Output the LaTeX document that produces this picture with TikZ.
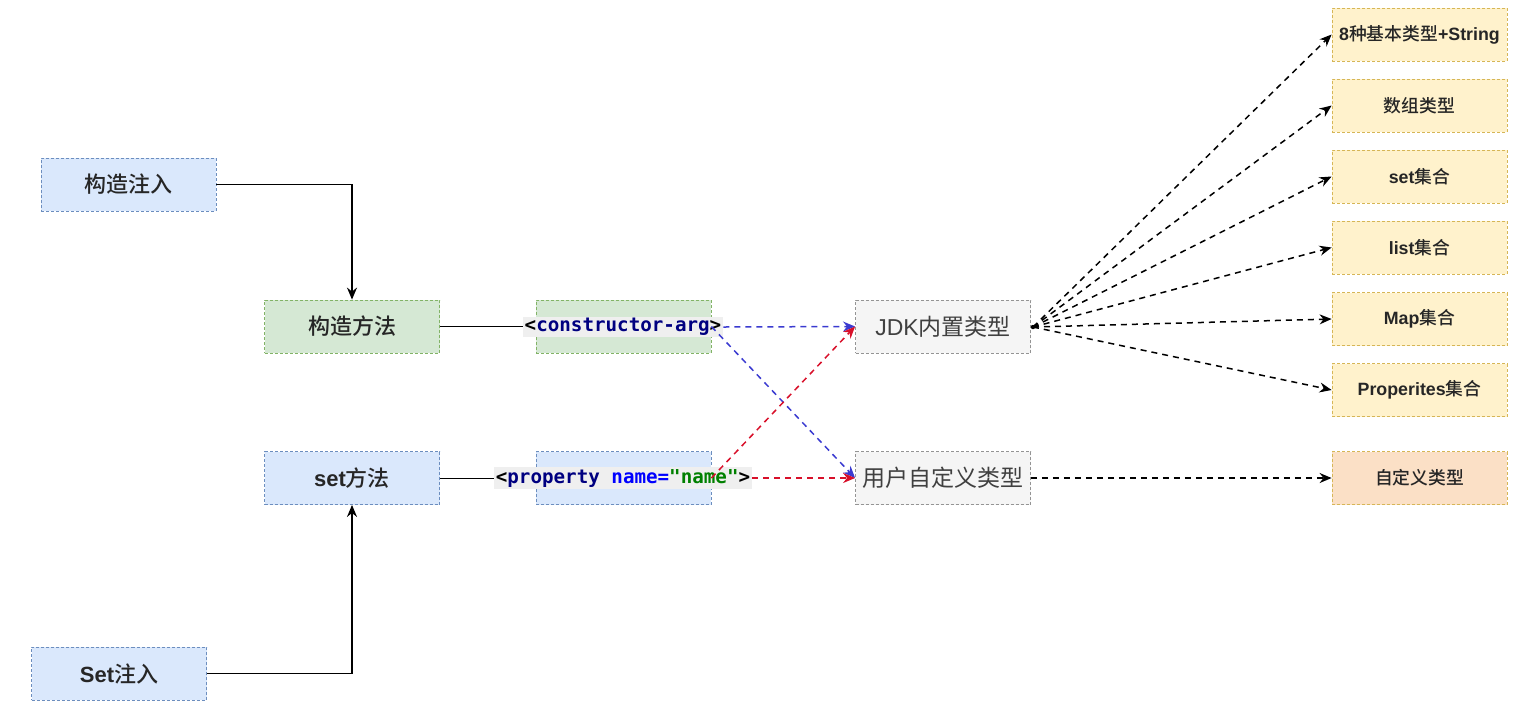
\documentclass[tikz,border=0pt]{standalone}
\usepackage{fontspec}
\setmainfont{Liberation Sans}
\newfontfamily\cjk{Noto Sans CJK SC}[BoldFont={Noto Sans CJK SC Medium}]
\newfontfamily\codefont{DejaVu Sans Mono}
\usetikzlibrary{arrows.meta}
\definecolor{blfill}{HTML}{DAE8FC}
\definecolor{bldraw}{HTML}{6C8EBF}
\definecolor{grfill}{HTML}{D5E8D4}
\definecolor{grdraw}{HTML}{82B366}
\definecolor{gyfill}{HTML}{F5F5F5}
\definecolor{gydraw}{HTML}{666666}
\definecolor{yefill}{HTML}{FFF2CC}
\definecolor{yedraw}{HTML}{D6B656}
\definecolor{orfill}{HTML}{FBE0C6}
\definecolor{ordraw}{HTML}{D79B00}
\definecolor{codebg}{HTML}{EFEFEF}
\definecolor{kwnavy}{HTML}{000080}
\definecolor{attblue}{HTML}{0000FF}
\definecolor{strgreen}{HTML}{008000}
\definecolor{lnblue}{HTML}{3A3AD0}
\definecolor{lnred}{HTML}{D8102A}
\tikzstyle{box}=[rectangle,draw,dash pattern=on 1.5pt off 1pt,line width=0.4pt,minimum width=87.5pt,minimum height=26.5pt,inner sep=0pt,text=black!85]
\tikzstyle{bluebox}=[box,fill=blfill,draw=bldraw,font=\bfseries\fontsize{11}{13}\selectfont]
\tikzstyle{greenbox}=[box,fill=grfill,draw=grdraw,font=\bfseries\fontsize{11}{13}\selectfont]
\tikzstyle{graybox}=[box,fill=gyfill,draw=gydraw!70,text=black!75,font=\fontsize{11.5}{13}\selectfont]
\tikzstyle{typebox}=[box,fill=yefill,draw=yedraw,font=\bfseries\fontsize{8.9}{10}\selectfont]
\tikzstyle{code}=[fill=codebg,inner sep=0.8pt,font=\codefont\bfseries\fontsize{9.6}{11}\selectfont]
\tikzstyle{solidarr}=[-{Stealth[length=6pt,width=5pt]},line width=0.75pt]
\tikzstyle{dasharr}=[-{Stealth[length=6pt,width=5pt]},line width=0.75pt,dash pattern=on 3pt off 2.5pt]
\newcommand{\kw}[1]{\textcolor{kwnavy}{#1}}

\begin{document}
\begin{tikzpicture}[x=0.5pt,y=-0.5pt]
\useasboundingbox (0,0) rectangle (1528,714);

% left column
\node[bluebox] (gzzr) at (128.5,184.5) {\cjk 构造注入};
\node[bluebox] (setzr) at (119,673.5) {Set{\cjk 注入}};
\node[greenbox] (gzff) at (352,326.5) {\cjk 构造方法};
\node[bluebox] (setff) at (352,478) {set{\cjk 方法}};

\draw[solidarr] (gzzr.east) -| (gzff.north);
\draw[solidarr] (setzr.east) -| (setff.south);

% xml tags
\node[greenbox] (ca) at (623.5,326.5) {};
\node[bluebox] (pr) at (623.5,478) {};
\draw[line width=0.5pt] (gzff.east) -- (ca.west);
\draw[line width=0.5pt] (setff.east) -- (pr.west);
\node[code] (caLab) at (623,327) {<\kw{constructor-arg}>};
\node[code] (prLab) at (623,478) {<\kw{property} \textcolor{attblue}{name=}\textcolor{strgreen}{"name"}>};

% type nodes
\node[graybox] (jdk) at (943,326.5) {JDK{\cjk 内置类型}};
\node[graybox] (user) at (943,478) {\cjk 用户自定义类型};

\draw[dasharr,draw=lnblue] (caLab.east) -- (jdk.west);
\draw[dasharr,draw=lnblue] (ca.east) -- (user.west);
\draw[dasharr,draw=lnred] (pr.east) -- (jdk.west);
\draw[dasharr,draw=lnred] (prLab.east) -- (user.west);

% builtin types
\foreach \n/\yy/\t in {t1/34.5/{8{\cjk 种基本类型}+String},
                       t2/105.5/{\cjk 数组类型},
                       t3/176.5/{set{\cjk 集合}},
                       t4/247.5/{list{\cjk 集合}},
                       t5/319/{Map{\cjk 集合}},
                       t6/390/{Properites{\cjk 集合}}}{
  \node[typebox] (\n) at (1419.5,\yy) {\t};
  \draw[dasharr] (1033,327) -- (\n.west);
}
\fill (1033,327) circle (2.2);

\node[typebox,fill=orfill] (own) at (1419.5,478) {\cjk 自定义类型};
\draw[dasharr] (user.east) -- (own.west);

\end{tikzpicture}
\end{document}
